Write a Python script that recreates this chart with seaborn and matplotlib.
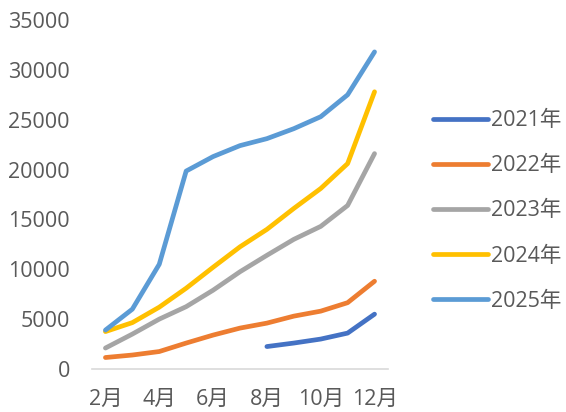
import matplotlib
matplotlib.use("Agg")
import matplotlib.pyplot as plt
import numpy as np
import pandas as pd
import seaborn as sns

# Monthly cumulative values by year (months 2-12)
months = [2, 3, 4, 5, 6, 7, 8, 9, 10, 11, 12]
month_labels = ["2月", "4月", "6月", "8月", "10月", "12月"]
label_months = [2, 4, 6, 8, 10, 12]
years = ["2021年", "2022年", "2023年", "2024年", "2025年"]

v2021 = [None, None, None, None, None, None, 2250, 2600, 3000, 3600, 5500]
v2022 = [1150, 1400, 1750, 2600, 3400, 4100, 4600, 5300, 5800, 6650, 8800]
v2023 = [2100, 3500, 5000, 6250, 7900, 9750, 11400, 13000, 14300, 16400, 21600]
v2024 = [3750, 4650, 6200, 8100, 10200, 12250, 14000, 16100, 18100, 20600, 27800]
v2025 = [3900, 6000, 10500, 19850, 21300, 22400, 23100, 24100, 25300, 27500, 31800]

colors = ["#4472C4", "#ED7D31", "#A5A5A5", "#FFC000", "#5B9BD5"]

rows = []
for year, vals in zip(years, [v2021, v2022, v2023, v2024, v2025]):
    for m, v in zip(months, vals):
        if v is not None:
            rows.append({"month": m, "value": v, "year": year})
df = pd.DataFrame(rows)

sns.set_theme(style="white")
plt.rcParams["font.family"] = ["Open Sans", "Noto Sans CJK SC", "DejaVu Sans"]
text_color = "#595959"
fs = 15.5

fig = plt.figure(figsize=(5.66, 4.12), dpi=100)
ax = fig.add_axes([0.1625, 0.1044, 0.523, 0.8471])

sns.lineplot(data=df, x="month", y="value", hue="year", hue_order=years,
             palette=colors, linewidth=3.4, ax=ax, legend=True,
             solid_capstyle="round", solid_joinstyle="round")

ax.set_xlim(1.5, 12.5)
ax.set_ylim(0, 35000)
ax.set_yticks(np.arange(0, 35001, 5000))
ax.set_yticklabels([str(v) for v in range(0, 35001, 5000)])
ax.set_xticks(label_months)
ax.set_xticklabels(month_labels)
ax.set_xlabel("")
ax.set_ylabel("")

for side in ["top", "right", "left"]:
    ax.spines[side].set_visible(False)
ax.spines["bottom"].set_color("#D9D9D9")
ax.spines["bottom"].set_linewidth(1.2)

ax.tick_params(axis="y", length=0, pad=16, labelsize=fs, labelcolor=text_color)
ax.tick_params(axis="x", length=0, pad=14, labelsize=fs, labelcolor=text_color)
ax.grid(False)

handles, labels = ax.get_legend_handles_labels()
for h in handles:
    h.set_linewidth(3.4)
    h.set_solid_capstyle("round")
ax.legend(handles, labels, loc="center left", bbox_to_anchor=(0.765, 0.488),
          bbox_transform=fig.transFigure, frameon=False, fontsize=fs,
          handlelength=2.55, handletextpad=0.15, labelspacing=1.12,
          borderpad=0, borderaxespad=0, labelcolor=text_color)

fig.savefig("out.png", dpi=100)
